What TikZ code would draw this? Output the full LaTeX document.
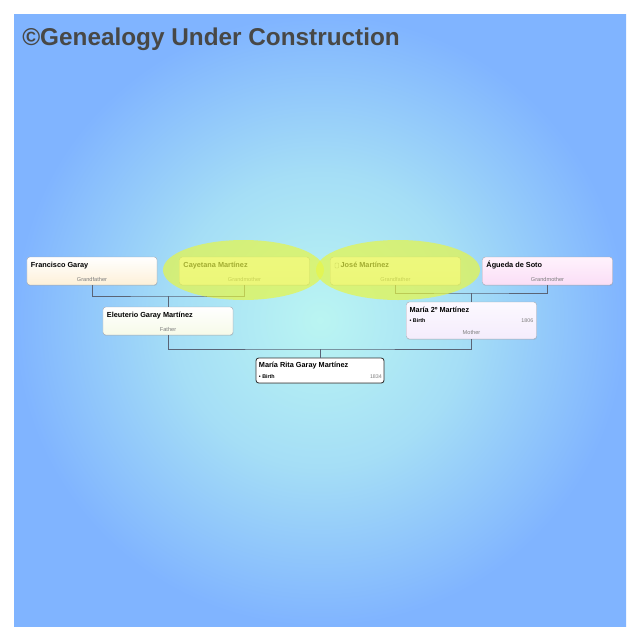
\documentclass[tikz,border=0pt]{standalone}
\usepackage{fontspec}
\setmainfont{Liberation Sans}
\usetikzlibrary{positioning,shadows}

\definecolor{bgcentre}{RGB}{186,245,242}
\definecolor{bgmid}{RGB}{165,222,246}
\definecolor{bgedge}{RGB}{128,180,255}
\definecolor{highlight}{RGB}{231,246,70}
\definecolor{boxline}{RGB}{165,170,180}
\definecolor{linkgrey}{RGB}{90,100,118}
\definecolor{titlegrey}{RGB}{72,72,70}
\definecolor{rolegrey}{RGB}{125,125,125}
\pgfdeclareradialshading{backdrop}{\pgfpoint{0bp}{0bp}}{color(0bp)=(bgcentre); color(12bp)=(bgmid); color(25bp)=(bgedge); color(50bp)=(bgedge)}

\begin{document}
\begin{tikzpicture}[x=0.025cm,y=-0.025cm,
  person/.style={draw=boxline, line width=0.3pt, rounded corners=2pt,
    minimum width=3.25cm, minimum height=0.7cm, inner sep=0pt,
    drop shadow={opacity=0.2, shadow xshift=0.3pt, shadow yshift=-0.6pt}},
  pname/.style={font=\bfseries\fontsize{5.2}{6}\selectfont, anchor=west, inner sep=0pt},
  prole/.style={font=\fontsize{4}{5}\selectfont, text=rolegrey, inner sep=0pt},
  pfact/.style={font=\bfseries\fontsize{3.8}{4.5}\selectfont, anchor=west, inner sep=0pt},
  pdate/.style={font=\fontsize{3.8}{4.5}\selectfont, text=rolegrey, anchor=east, inner sep=0pt},
  link/.style={draw=linkgrey, line width=0.6pt}]
  % page and backdrop
  \useasboundingbox[fill=white] (0,0) rectangle (640,640);
  \shade[shading=backdrop] (14,14) rectangle (626,626);
  \node[anchor=base west, inner sep=0pt, text=titlegrey,
    font=\bfseries\fontsize{17.3}{20}\selectfont] (title) at (22,45) {©Genealogy Under Construction};

  % grandparents
  \node[person, top color=white, bottom color={rgb,255:red,253;green,240;blue,216}] (francisco) at (92,271) {};
  \node[person, top color=white, bottom color={rgb,255:red,250;green,250;blue,244}] (cayetana) at (244.5,271) {};
  \node[person, top color=white, bottom color={rgb,255:red,250;green,250;blue,240}] (jose) at (395.5,271) {};
  \node[person, top color={rgb,255:red,255;green,242;blue,252}, bottom color={rgb,255:red,250;green,222;blue,246}] (agueda) at (547.5,271) {};
  \node[pname] (francisconame) at ([xshift=2.8pt,yshift=-6pt]francisco.north west) {Francisco Garay};
  \node[prole] (franciscorole) at ([yshift=4.3pt]francisco.south) {Grandfather};
  \node[pname] (cayetananame) at ([xshift=2.8pt,yshift=-6pt]cayetana.north west) {Cayetana Martínez};
  \node[prole] (cayetanarole) at ([yshift=4.3pt]cayetana.south) {Grandmother};
  \node[pname] (josename) at ([xshift=7.2pt,yshift=-6pt]jose.north west) {José Martínez};
  \draw[rolegrey, line width=0.3pt, rounded corners=0.4pt] (335,263) rectangle (338.5,268);
  \node[prole] (joserole) at ([yshift=4.3pt]jose.south) {Grandfather};
  \node[pname] (aguedaname) at ([xshift=2.8pt,yshift=-6pt]agueda.north west) {Águeda de Soto};
  \node[prole] (aguedarole) at ([yshift=4.3pt]agueda.south) {Grandmother};

  % parents
  \node[person, top color=white, bottom color={rgb,255:red,246;green,250;blue,232}] (eleuterio) at (168,321) {};
  \node[pname] (eleuterioname) at ([xshift=2.8pt,yshift=-6pt]eleuterio.north west) {Eleuterio Garay Martínez};
  \node[prole] (eleuteriorole) at ([yshift=4.3pt]eleuterio.south) {Father};
  \node[person, minimum height=0.925cm, top color={rgb,255:red,252;green,249;blue,255}, bottom color={rgb,255:red,244;green,236;blue,252}] (maria) at (471.5,320.5) {};
  \node[pname] (marianame) at ([xshift=2.2pt,yshift=-5.8pt]maria.north west) {María 2º Martínez};
  \node[pfact] (mariabirth) at ([xshift=2.2pt,yshift=-13.3pt]maria.north west) {• Birth};
  \node[pdate] (mariadate) at ([xshift=-2.2pt,yshift=-13.3pt]maria.north east) {1806};
  \node[prole] (mariarole) at ([yshift=4.9pt]maria.south) {Mother};

  % subject
  \node[person, draw=black!80, line width=0.6pt, minimum width=3.2cm, minimum height=0.625cm, fill=white] (rita) at (320,370.5) {};
  \node[pname] (ritaname) at ([xshift=2.2pt,yshift=-5.6pt]rita.north west) {María Rita Garay Martínez};
  \node[pfact] (ritabirth) at ([xshift=2.2pt,yshift=-13.5pt]rita.north west) {• Birth};
  \node[pdate] (ritadate) at ([xshift=-1.6pt,yshift=-13.5pt]rita.north east) {1834};

  % family lines
  \coordinate (garaybar) at (168,296);
  \coordinate (martinezbar) at (471.5,293);
  \coordinate (ritabar) at (320,349);
  \draw[link] (francisco.south) |- (garaybar) -| (cayetana.south);
  \draw[link] (garaybar) -- (eleuterio.north);
  \draw[link] (jose.south) |- (martinezbar) -| (agueda.south);
  \draw[link] (martinezbar) -- (maria.north);
  \draw[link] (eleuterio.south) |- (ritabar) -| (maria.south);
  \draw[link] (ritabar) -- (rita.north);

  % highlighted couple
  \fill[highlight, opacity=0.7] (243.5,270) ellipse [x radius=80.5, y radius=30];
  \fill[highlight, opacity=0.7] (398,270) ellipse [x radius=82, y radius=30];
\end{tikzpicture}
\end{document}
